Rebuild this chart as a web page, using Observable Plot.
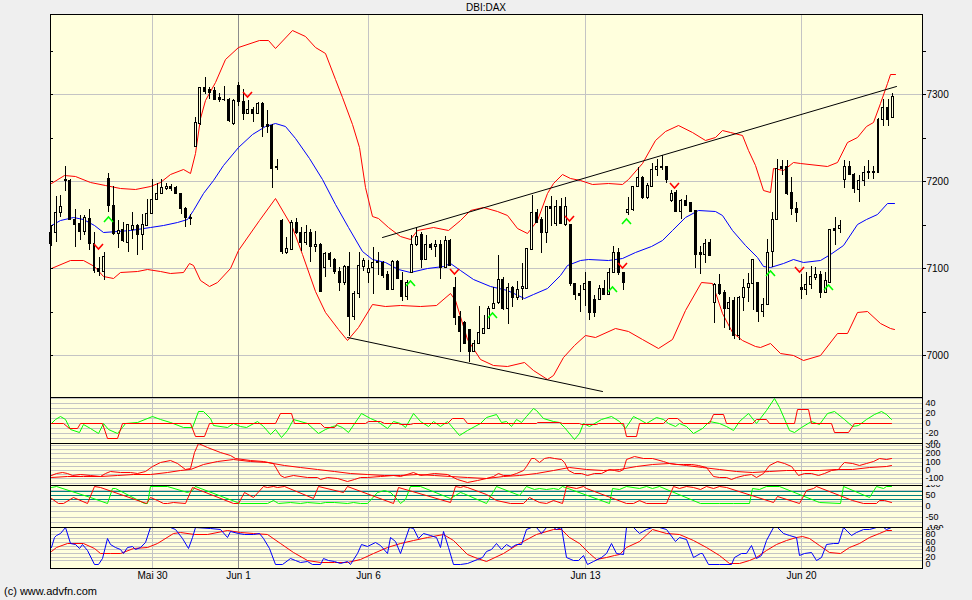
<!DOCTYPE html>
<html><head><meta charset="utf-8">
<script src="https://cdn.jsdelivr.net/npm/d3@7"></script>
<script src="https://cdn.jsdelivr.net/npm/@observablehq/plot@0.6"></script>
<style>
html,body{margin:0;padding:0;background:#EFEFEF;}
#chart{position:relative;width:972px;height:600px;background:#EFEFEF;font-family:"Liberation Sans",Arial,sans-serif;overflow:hidden;}
#chart svg{position:absolute;left:0;}
.title{position:absolute;top:2px;left:0;width:972px;text-align:center;font-size:10px;color:#000;}
.caption{position:absolute;left:4px;top:585px;font-size:11px;color:#000;}
</style></head><body><div id="chart"><div class="title">DBI:DAX</div><div class="caption">(c) www.advfn.com</div></div>
<script>
// ---------- DATA ----------
const tickIdx = [21, 39, 66, 111, 156];
const tickLabels = ["Mai 30", "Jun 1", "Jun 6", "Jun 13", "Jun 20"];
const tickDark = [false, true, false, false, false];

const open  = [7142,7142,7165,7203,7201,7156,7152,7143,7158,7129,7100,7097,7204,7173,7140,7145,7130,7145,7150,7139,7150,7163,7180,7187,7192,7194,7193,7186,7169,7158,
7240,7267,7308,7306,7305,7297,7295,7295,7267,7311,7292,7279,7283,7279,7290,7266,7265,7218,7155,7119,7122,7153,7142,7130,7141,7125,7128,7101,7117,7111,
7097,7084,7102,7045,7071,7103,7095,7101,7107,7107,7093,7076,7108,7086,7068,7095,7128,7139,7110,7128,7125,7128,7101,7132,7078,7045,7038,7030,7005,7014,
7025,7031,7054,7061,7088,7054,7078,7067,7077,7077,7122,7165,7156,7141,7172,7152,7172,7151,7151,7083,7071,7076,7085,7065,7064,7077,7070,7095,7119,7096,
7165,7168,7194,7205,7182,7194,7214,7218,7218,7178,7188,7166,7178,7176,7167,7119,7116,7130,7061,7082,7072,7054,7063,7023,7067,7078,7083,7084,7051,7059,
7120,7156,7217,7217,7188,7169,7078,7076,7082,7090,7093,7073,7084,7146,7146,7202,7218,7208,7191,7201,7211,7212,7211,7271,7285,7274];
const high  = [7150,7183,7184,7217,7203,7168,7161,7161,7168,7141,7113,7118,7209,7194,7155,7153,7151,7164,7151,7162,7179,7203,7198,7203,7198,7197,7194,7187,7170,7162,
7274,7308,7320,7308,7308,7301,7309,7296,7294,7314,7306,7293,7285,7291,7291,7282,7266,7226,7157,7136,7155,7158,7147,7150,7145,7143,7129,7119,7119,7112,
7101,7104,7118,7074,7119,7112,7109,7124,7119,7108,7097,7109,7109,7096,7086,7138,7147,7141,7138,7129,7132,7132,7137,7133,7090,7051,7039,7030,7017,7056,
7046,7056,7078,7115,7090,7083,7080,7085,7106,7123,7184,7168,7159,7172,7183,7178,7181,7182,7151,7083,7081,7096,7085,7069,7081,7086,7100,7125,7123,7096,
7182,7194,7216,7206,7198,7221,7225,7230,7218,7190,7190,7179,7184,7176,7167,7125,7133,7134,7083,7093,7075,7067,7067,7068,7087,7094,7111,7084,7066,7133,
7165,7225,7224,7224,7205,7176,7093,7095,7102,7101,7097,7096,7145,7159,7155,7224,7223,7210,7207,7218,7224,7217,7273,7294,7294,7301];
const low   = [7125,7130,7159,7189,7155,7124,7132,7138,7121,7094,7091,7086,7165,7138,7123,7130,7119,7133,7115,7121,7150,7163,7178,7186,7190,7189,7185,7162,7147,7150,
7239,7265,7300,7294,7293,7291,7292,7268,7265,7287,7270,7277,7268,7278,7251,7256,7192,7213,7116,7116,7122,7139,7120,7127,7107,7118,7073,7090,7101,7093,
7074,7081,7022,7040,7066,7097,7083,7070,7092,7089,7075,7075,7088,7062,7063,7094,7126,7100,7109,7121,7113,7087,7100,7102,7035,7004,7013,6992,7004,7014,
7024,7030,7053,7059,7052,7036,7055,7063,7063,7076,7121,7152,7117,7129,7148,7148,7151,7148,7079,7063,7050,7056,7040,7044,7063,7070,7070,7094,7092,7075,
7161,7166,7193,7180,7180,7193,7206,7213,7198,7176,7164,7157,7173,7165,7100,7093,7106,7114,7037,7069,7031,7029,7018,7017,7051,7061,7052,7038,7044,7058,
7101,7155,7207,7184,7161,7153,7064,7069,7076,7086,7066,7071,7084,7127,7140,7192,7207,7187,7176,7194,7202,7202,7211,7263,7263,7273];
const close = [7129,7165,7171,7201,7156,7151,7143,7159,7129,7098,7097,7114,7173,7140,7144,7132,7151,7150,7139,7151,7163,7180,7187,7193,7195,7192,7186,7169,7159,7159,
7268,7308,7304,7303,7294,7294,7294,7270,7293,7292,7279,7283,7279,7290,7264,7264,7215,7216,7120,7123,7153,7141,7130,7141,7125,7128,7074,7117,7111,7097,
7084,7102,7045,7071,7104,7109,7100,7107,7108,7092,7076,7108,7089,7068,7084,7128,7137,7110,7128,7124,7128,7101,7132,7104,7044,7028,7014,7005,7014,7027,
7031,7054,7060,7088,7054,7078,7067,7076,7079,7123,7165,7153,7141,7172,7169,7172,7152,7172,7083,7070,7069,7083,7049,7049,7077,7070,7095,7119,7095,7084,
7168,7194,7205,7182,7196,7214,7218,7216,7203,7187,7166,7178,7173,7166,7116,7116,7129,7115,7082,7071,7054,7061,7023,7067,7078,7083,7111,7051,7059,7118,
7156,7215,7215,7187,7169,7164,7076,7082,7091,7093,7073,7086,7145,7144,7150,7218,7208,7192,7201,7211,7212,7211,7271,7285,7271,7298];

const upperBand = [[0,7198],[2.8,7207],[5.1,7206],[8.2,7199],[11.3,7196],[14.4,7192],[17.5,7191],[20.6,7194],[22.7,7199],[24.8,7208],[27.5,7214],[29.0,7210],[30.0,7232],[31.0,7273],[32.1,7293],[34.2,7314],[36.2,7341],[39.0,7354],[43.2,7362],[45.2,7362],[46.6,7353],[50.1,7374],[52.9,7367],[55.0,7354],[57.0,7347],[59.1,7318],[60.5,7297],[62.6,7266],[64.0,7239],[65.3,7193],[66.7,7160],[68.1,7158],[70.2,7147],[72.6,7137],[74.7,7133],[76.1,7144],[79.5,7147],[82.7,7144],[85.1,7155],[87.2,7167],[89.9,7170],[92.7,7166],[94.8,7161],[96.9,7146],[99.0,7140],[101.0,7155],[103.1,7186],[104.5,7198],[106.2,7208],[108.0,7204],[110.0,7201],[112.5,7197],[115.9,7198],[118.7,7197],[120.1,7202],[122.9,7221],[125.6,7247],[127.7,7258],[130.5,7265],[133.3,7257],[136.0,7247],[138.1,7251],[139.5,7259],[141.2,7257],[143.7,7253],[145.0,7236],[146.4,7219],[148.1,7190],[149.5,7188],[150.2,7215],[152.3,7213],[154.4,7222],[155.8,7221],[161.3,7217],[163.4,7222],[165.5,7245],[167.6,7251],[169.6,7264],[171.0,7268],[172.4,7290],[173.8,7313],[174.6,7323],[175.5,7323]];
const middleBand = [[0,7150],[1.9,7155],[4.7,7159],[6.8,7157],[8.9,7150],[10.9,7142],[13.7,7143],[16.5,7144],[20.6,7147],[23.4,7150],[26.2,7153],[28.3,7156],[29.6,7167],[31.7,7186],[33.8,7201],[35.9,7219],[39.0,7239],[41.8,7254],[44.6,7264],[46.6,7267],[48.7,7264],[50.8,7250],[53.6,7227],[56.3,7203],[59.1,7174],[61.9,7147],[64.7,7120],[66.7,7111],[69.5,7107],[72.3,7099],[74.7,7096],[78.2,7100],[81.6,7102],[83.0,7106],[85.1,7098],[87.9,7088],[91.3,7079],[94.8,7075],[98.3,7066],[100.3,7070],[103.1,7077],[105.9,7092],[107.3,7104],[110.0,7109],[111.8,7110],[115.9,7109],[118.7,7112],[121.5,7119],[124.9,7125],[127.0,7132],[129.1,7144],[131.9,7159],[134.6,7167],[138.1,7166],[139.5,7161],[141.6,7144],[144.3,7127],[146.8,7113],[148.1,7102],[149.5,7101],[152.3,7106],[154.4,7110],[156.5,7107],[159.9,7109],[162.0,7116],[164.8,7127],[167.6,7151],[169.6,7156],[171.7,7162],[173.8,7175],[175.3,7175]];
const lowerBand = [[0,7100],[4.0,7109],[6.8,7109],[8.9,7102],[10.9,7091],[13.0,7089],[14.4,7096],[17.9,7097],[20.0,7099],[22.7,7097],[24.8,7094],[27.6,7096],[28.8,7106],[29.6,7104],[31.0,7086],[33.0,7079],[34.5,7084],[37.3,7100],[39.0,7121],[43.2,7155],[46.6,7181],[50.1,7147],[52.2,7116],[54.9,7074],[57.0,7049],[59.8,7030],[61.7,7017],[63.9,7032],[66.7,7059],[69.5,7056],[72.6,7058],[76.8,7056],[80.2,7058],[83.0,7071],[84.1,7063],[86.5,7019],[89.3,6995],[92.0,6989],[94.8,6987],[98.3,6992],[100.3,6983],[103.1,6972],[104.5,6977],[106.6,6998],[108.7,7012],[111.1,7023],[113.2,7021],[117.3,7031],[120.1,7028],[122.9,7019],[126.3,7008],[129.1,7019],[131.9,7052],[135.3,7084],[137.4,7083],[139.5,7048],[141.6,7027],[143.7,7017],[146.4,7011],[147.5,7009],[149.5,7014],[151.6,7002],[154.4,7000],[156.5,6994],[159.9,7000],[163.4,7025],[165.5,7025],[167.6,7050],[169.8,7051],[172.4,7037],[174.5,7031],[175.3,7030]];
const upperTrend = [[68.8,7136],[175.8,7310]];
const lowerTrend = [[61.7,7021],[114.6,6959]];
const sellSignals = [[9.8,7126],[40.8,7300],[83.9,7097],[107.8,7158],[118.8,7104],[129.6,7196],[155.5,7099]];
const buySignals  = [[11.9,7157],[74.7,7083],[91.8,7046],[116.7,7076],[119.6,7154],[149.5,7094],[161.6,7078]];

const mainGrid = [7000, 7100, 7200, 7300];
const mainTicks = [7000, 7050, 7100, 7150, 7200, 7250, 7300, 7350];

const p1Green = [[0,0],[0.9,8],[1.9,15],[3.0,7],[4.0,-12],[5.8,-17],[6.8,-1],[8.2,-10],[9.9,-19],[10.9,0],[12.0,-12],[13.7,-20],[14.8,-7],[15.4,0],[17.9,2],[21.0,15],[22.7,8],[24.8,2],[27.6,-8],[29.3,-7],[30.7,23],[31.7,23],[33.1,10],[33.8,-3],[36.6,-7],[38.0,0],[39.4,-5],[40.7,-8],[42.8,3],[44.2,-5],[45.6,-21],[46.6,-12],[47.8,-28],[49.1,-13],[50.4,7],[53.2,0],[55.6,-20],[57.0,-12],[58.4,-5],[59.5,-3],[60.5,-8],[61.9,-17],[64.6,20],[66.4,10],[67.8,3],[69.9,-10],[71.2,3],[72.6,1],[73.7,-8],[75.4,20],[76.8,3],[78.5,-5],[79.5,5],[81.0,-5],[82.3,3],[84.8,-23],[86.5,-13],[89.3,0],[90.5,12],[92.6,19],[93.6,2],[94.7,5],[95.7,-5],[96.7,8],[97.8,2],[98.8,15],[100.2,30],[100.9,27],[102.3,10],[104.4,3],[105.7,2],[106.8,-7],[108.7,-31],[109.9,-20],[110.6,0],[112.0,-5],[114.4,8],[116.5,15],[118.2,3],[119.3,-10],[121.0,15],[122.4,7],[123.8,1],[125.8,13],[127.2,7],[128.3,0],[129.7,-5],[130.7,0],[132.1,-5],[133.5,-20],[135.5,-10],[136.9,5],[139.0,0],[140.4,-5],[141.8,-13],[143.2,5],[144.9,20],[146.6,0],[148.7,27],[150.4,50],[151.5,33],[153.6,-13],[154.6,-17],[156.0,-7],[158.1,3],[159.8,-2],[161.5,20],[162.9,23],[165.0,7],[166.7,-5],[167.8,-3],[169.5,8],[171.2,19],[172.6,23],[173.7,19],[174.7,8]];
const p1Red = [[0,0],[2.6,0],[3.7,-10],[5.4,-10],[6.0,0],[10.6,0],[11.6,-30],[13.7,-30],[14.8,0],[29.0,0],[30.0,-25],[31.9,-25],[33.0,0],[46.6,0],[47.7,20],[49.9,20],[50.6,0],[56.0,0],[56.8,-8],[58.8,-8],[59.5,0],[65.3,0],[66.0,3],[68.5,3],[69.2,0],[72.3,0],[72.6,-2],[74.7,-2],[75.4,0],[82.3,0],[83.4,10],[85.8,10],[86.6,0],[100.9,0],[101.2,2],[105.7,2],[106.4,0],[109.9,0],[110.2,-2],[113.4,-2],[113.7,0],[118.9,0],[119.6,-25],[121.7,-25],[122.4,0],[127.2,0],[128.3,10],[130.3,10],[131.4,0],[136.9,0],[137.6,19],[139.7,19],[140.3,0],[145.9,0],[146.6,8],[148.7,8],[149.4,0],[154.6,0],[155.1,28],[157.4,28],[158.1,0],[162.2,0],[162.9,-18],[165.7,-18],[167.1,0],[174.7,0]];
const p1Labels = [40, 20, 0, -20, -40];
const p1Grid = [-30, -20, -10, 0, 10, 20, 30, 40, 50];

const p2Fast = [[0,-60],[1.2,-32],[2.3,-20],[3.3,-40],[4.4,-60],[6.1,-48],[8.2,-60],[10.3,-72],[11.3,-32],[12.3,-12],[14.4,-20],[16.5,-28],[17.9,-40],[19.6,-12],[21.0,48],[22.7,100],[24.8,120],[26.2,80],[27.9,12],[29.0,20],[29.7,220],[30.7,320],[32.4,280],[35.2,220],[37.3,180],[38.3,140],[41.4,120],[44.2,112],[46.3,80],[47.7,-60],[48.4,-88],[50.4,-60],[53.2,-80],[55.3,-88],[56.0,-112],[57.4,-88],[59.5,-100],[61.5,-128],[63.0,-112],[64.3,-88],[65.7,-88],[68.5,-72],[71.2,-60],[72.6,-68],[75.4,-28],[76.8,-60],[79.6,-40],[82.3,-48],[84.4,-112],[86.5,-140],[88.6,-120],[90.5,-95],[91.9,-72],[92.9,-32],[94.0,-64],[95.4,-60],[96.7,-40],[98.1,0],[98.8,48],[99.9,140],[100.5,140],[101.6,100],[102.6,140],[103.7,152],[104.7,140],[106.1,128],[106.8,100],[107.5,0],[108.9,-40],[110.3,-32],[111.6,-60],[113.0,-40],[114.4,-40],[116.1,8],[117.2,0],[118.2,-8],[118.9,8],[119.6,128],[121.3,168],[123.1,140],[125.1,140],[127.2,112],[128.6,88],[130.0,72],[131.4,72],[133.1,72],[134.5,60],[136.2,32],[137.6,-72],[139.0,-88],[140.4,-88],[141.4,-112],[142.5,-88],[144.2,-60],[145.6,-48],[146.6,-88],[148.0,-40],[149.4,60],[151.1,108],[152.5,80],[153.9,48],[155.3,-64],[156.7,-40],[158.1,-40],[159.5,-60],[160.8,-40],[162.2,0],[163.6,12],[164.3,60],[165.0,100],[166.7,88],[168.1,60],[169.5,80],[170.9,112],[172.3,140],[173.7,128],[174.7,140]];
const p2Slow = [[0,-88],[3.3,-72],[6.8,-76],[10.3,-72],[13.7,-60],[17.2,-52],[20.7,-48],[24.1,-20],[26.9,0],[29.0,12],[31.7,72],[34.5,108],[38.0,128],[41.4,112],[44.9,100],[48.4,60],[51.8,32],[55.3,8],[58.8,-12],[62.2,-40],[65.7,-48],[69.2,-60],[72.6,-60],[76.1,-48],[79.6,-60],[83.0,-72],[86.5,-88],[90.5,-95],[94.0,-72],[97.4,-60],[100.9,-32],[104.4,0],[107.8,32],[111.3,16],[114.8,0],[118.2,8],[121.7,48],[125.1,72],[128.6,80],[132.1,60],[135.5,40],[139.0,8],[142.5,-8],[145.9,-20],[149.4,-12],[152.9,0],[156.3,0],[159.8,0],[163.3,12],[166.7,12],[170.2,32],[173.7,48],[174.7,56]];
const p2Labels = [300, 200, 100, 0, -100];
const p2Grid = [-150, -100, -50, 0, 50, 100, 150, 200, 250, 300];

const p3Green = [[0,88],[1.2,92],[8.2,42],[11.6,12],[12.7,83],[13.4,80],[19.3,12],[20.0,12],[20.6,92],[24.1,92],[28.3,65],[29.3,73],[30.0,92],[38.7,20],[39.4,12],[44.9,12],[46.3,27],[47.3,12],[49.7,20],[51.8,12],[53.2,20],[56.0,12],[57.0,20],[58.8,20],[61.5,12],[62.9,20],[64.3,12],[65.7,12],[67.8,65],[69.2,73],[70.5,65],[71.9,30],[72.6,12],[73.7,30],[74.7,92],[76.8,92],[83.0,35],[85.1,65],[85.8,58],[90.5,13],[92.6,92],[97.4,50],[98.8,92],[100.5,76],[101.6,83],[103.0,76],[104.4,83],[105.4,76],[106.4,92],[116.1,12],[116.8,83],[118.2,76],[119.6,92],[122.4,83],[123.8,92],[125.1,83],[126.5,92],[134.9,12],[139.0,12],[141.8,12],[145.2,12],[145.9,83],[147.3,76],[148.7,92],[151.5,92],[159.8,20],[164.0,12],[164.7,92],[170.2,39],[171.6,92],[173.0,83],[173.7,92],[174.7,92]];
const p3Red = [[0,35],[1.6,12],[2.6,12],[4.7,39],[7.5,12],[8.9,92],[10.3,88],[19.9,12],[20.6,39],[22.0,27],[23.4,12],[24.1,12],[25.5,20],[28.0,12],[29.3,88],[31.0,73],[38.0,12],[39.0,12],[40.1,65],[42.1,42],[44.2,92],[44.9,88],[46.3,92],[47.0,88],[48.4,92],[54.6,35],[55.6,92],[60.8,65],[61.5,92],[71.2,12],[72.3,88],[83.0,20],[84.1,92],[85.1,88],[85.8,92],[86.5,88],[90.5,55],[92.6,27],[95.4,12],[98.1,12],[99.5,39],[101.6,20],[103.0,12],[104.4,27],[106.4,12],[107.1,92],[109.2,83],[110.6,92],[111.3,83],[119.6,12],[121.0,12],[122.4,27],[123.8,12],[127.9,12],[129.3,92],[130.7,83],[132.1,92],[133.5,88],[134.9,76],[136.2,92],[137.6,83],[139.0,92],[140.4,88],[150.1,20],[151.1,47],[155.6,12],[157.0,73],[158.4,83],[159.1,92],[166.7,27],[168.8,12],[171.6,12],[172.3,27],[173.3,27],[174.7,20]];
const p3Levels = [70, 50, 30];
const p3Labels = [100, 50, 0, -50, -100];
const p3Grid = [-75, -50, -25, 0, 25, 75];

const p4Blue = [[0,47],[0.6,74],[1.2,78],[1.9,83],[3.0,100],[4.0,56],[5.1,54],[5.8,42],[6.4,54],[7.5,38],[8.9,0],[9.9,0],[10.6,15],[11.6,71],[12.3,54],[13.4,47],[14.4,40],[15.1,29],[15.8,45],[16.8,49],[17.5,40],[18.6,47],[19.6,60],[20.6,100],[24.8,100],[25.8,94],[27.2,69],[28.6,42],[29.3,74],[30.0,100],[33.1,96],[35.2,94],[36.6,74],[37.3,90],[39.0,83],[40.1,80],[42.1,81],[43.2,85],[44.2,69],[45.3,42],[46.6,0],[48.0,0],[49.7,15],[50.8,11],[51.8,6],[53.2,9],[54.3,0],[56.0,0],[56.7,15],[57.7,11],[58.8,9],[60.2,2],[61.5,9],[62.2,0],[63.6,29],[64.6,54],[65.7,49],[67.4,60],[68.5,51],[69.9,29],[70.5,74],[71.6,63],[72.6,29],[74.4,100],[75.4,96],[76.4,69],[77.5,85],[78.9,78],[80.2,74],[81.0,47],[81.6,90],[82.7,47],[83.7,0],[85.1,0],[86.5,2],[88.6,13],[89.6,20],[90.5,35],[91.5,40],[92.6,58],[93.6,40],[94.7,54],[95.7,47],[96.7,54],[97.8,54],[98.8,94],[99.9,100],[100.9,100],[101.9,83],[103.0,100],[104.4,100],[105.1,94],[106.1,100],[107.1,20],[108.5,11],[109.6,11],[110.6,24],[111.6,0],[112.7,9],[114.4,18],[115.4,31],[116.5,56],[117.5,31],[118.9,27],[119.6,100],[121.0,100],[122.4,83],[123.8,94],[125.1,100],[126.5,100],[127.9,94],[129.7,63],[130.7,74],[132.1,67],[133.5,20],[134.9,31],[135.5,31],[136.6,0],[139.0,0],[141.4,0],[142.1,20],[143.5,29],[144.6,31],[145.6,51],[146.6,15],[147.7,24],[148.7,65],[150.1,100],[151.1,100],[152.2,83],[153.6,78],[154.9,74],[155.6,24],[156.7,29],[158.1,33],[159.1,11],[160.1,20],[161.2,54],[162.6,58],[163.6,58],[164.7,100],[166.4,78],[167.4,87],[168.8,94],[170.2,94],[171.6,100],[173.0,100],[173.7,94],[174.7,100]];
const p4Red = [[0,36],[1.2,47],[3.3,58],[6.8,58],[8.9,42],[10.3,29],[12.3,31],[14.4,29],[17.2,44],[20.0,47],[22.0,58],[25.5,83],[26.9,87],[29.7,81],[32.4,81],[36.6,92],[39.4,87],[42.1,83],[44.9,81],[47.7,56],[50.4,33],[53.2,11],[56.0,6],[58.8,6],[61.5,6],[64.3,13],[67.1,29],[69.9,47],[72.6,56],[75.4,65],[78.2,74],[81.6,81],[83.7,65],[86.5,27],[88.6,15],[90.5,8],[94.0,29],[97.4,58],[100.9,81],[104.4,94],[106.1,94],[107.8,74],[109.9,58],[112.0,29],[113.4,13],[115.4,20],[117.2,24],[118.2,27],[119.6,45],[122.4,63],[125.1,94],[127.9,85],[130.7,81],[133.5,65],[136.2,47],[139.0,24],[141.1,4],[143.2,4],[145.2,11],[146.6,20],[148.7,38],[150.8,54],[152.9,65],[154.9,74],[156.3,76],[157.7,69],[159.8,51],[161.9,33],[164.0,31],[166.0,45],[168.1,58],[170.2,74],[172.3,85],[173.7,92],[174.7,92]];
const p4Labels = [100, 80, 60, 40, 20, 0];
const p4Grid = [-10, 10, 20, 30, 40, 50, 60, 70, 80, 90];

// ---------- LAYOUT / STYLE ----------
const W = 972, ML = 50, MR = 50;
const xDomain = [-0.15, 181.15];
const BG = "#FFFFDD", GRID = "#C4C4C4", GRID_DARK = "#8C8C8C";
const RED = "#FF0000", GREEN = "#00FF00", BLUE = "#0000FF", TEAL = "#008080";
const FONT = "'Liberation Sans', Arial, sans-serif";
const style = {background: "transparent", color: "black", fontFamily: FONT, fontSize: "10px", overflow: "hidden"};
const chart = document.getElementById("chart");

const chevronDown = {draw(ctx, size) { const r = Math.sqrt(size / Math.PI); ctx.moveTo(-r, -r * 0.55); ctx.lineTo(0, r * 0.55); ctx.lineTo(r, -r * 0.55); }};
const chevronUp = {draw(ctx, size) { const r = Math.sqrt(size / Math.PI); ctx.moveTo(-r, r * 0.55); ctx.lineTo(0, -r * 0.55); ctx.lineTo(r, r * 0.55); }};

const vGrid = () => [
  Plot.ruleX(tickIdx.filter((d, k) => !tickDark[k]), {x: d => d, stroke: GRID}),
  Plot.ruleX(tickIdx.filter((d, k) => tickDark[k]), {x: d => d, stroke: GRID_DARK})
];
const xy = (stroke, w = 1) => ({x: d => d[0], y: d => d[1], stroke, strokeWidth: w});

function place(svg, top) { svg.style.top = top + "px"; chart.appendChild(svg); }

// ---------- MAIN PRICE PANEL ----------
const candles = open.map((o, i) => ({i, o, c: close[i], h: high[i], l: low[i]}));
const upCandles = candles.filter(d => d.c >= d.o);

const main = Plot.plot({
  width: W, height: 398, marginLeft: ML, marginRight: MR, marginTop: 14, marginBottom: 1,
  style,
  x: {domain: xDomain, round: true, axis: null},
  y: {domain: [6951.8, 7392.3], round: true},
  marks: [
    Plot.frame({fill: BG, stroke: null}),
    Plot.ruleY(mainGrid, {y: d => d, stroke: GRID}),
    ...vGrid(),
    Plot.line(upperBand, xy(RED)),
    Plot.line(lowerBand, xy(RED)),
    Plot.line(middleBand, xy(BLUE)),
    Plot.line(upperTrend, xy("black")),
    Plot.line(lowerTrend, xy("black")),
    Plot.ruleX(candles, {x: "i", y1: "l", y2: "h", stroke: "black"}),
    Plot.rect(candles, {x1: d => d.i - 0.31, x2: d => d.i + 0.31, y1: "o", y2: "c", fill: "black", insetBottom: -1}),
    Plot.rect(upCandles, {x1: d => d.i - 0.31, x2: d => d.i + 0.31, y1: "o", y2: "c", fill: BG, insetLeft: 1, insetRight: 1, insetTop: 1, insetBottom: 0}),
    Plot.dot(sellSignals, {x: d => d[0], y: d => d[1], symbol: chevronDown, r: 4.5, stroke: RED, strokeWidth: 1.6, fill: "none"}),
    Plot.dot(buySignals, {x: d => d[0], y: d => d[1], symbol: chevronUp, r: 4.5, stroke: GREEN, strokeWidth: 1.6, fill: "none"}),
    Plot.axisY({anchor: "left", ticks: mainTicks, tickSize: -3, tickFormat: () => "", label: null}),
    Plot.axisY({anchor: "right", ticks: mainTicks, tickSize: 3, tickPadding: 1, tickFormat: d => d % 100 === 0 ? String(d) : "", label: null, fontSize: 10}),
    Plot.frame({stroke: "black"})
  ]
});
place(main, 0);

// ---------- INDICATOR PANELS ----------
function panel({top, height, marginBottom = 1, domain, grid, labels, marks, xAxis = false}) {
  const svg = Plot.plot({
    width: W, height, marginLeft: ML, marginRight: MR, marginTop: 0, marginBottom,
    style,
    x: xAxis ? {domain: xDomain, round: true} : {domain: xDomain, round: true, axis: null},
    y: {domain, round: true, axis: null},
    marks: [
      Plot.frame({fill: BG, stroke: null}),
      Plot.ruleY(grid, {y: d => d, stroke: GRID}),
      ...vGrid(),
      ...marks,
      Plot.text(labels, {y: d => d, text: d => String(d), frameAnchor: "right", dx: 3, textAnchor: "start", fontSize: 9, fill: "black"}),
      ...(xAxis ? [Plot.axisX({ticks: tickIdx, tickSize: 0, tickPadding: 3, tickFormat: d => tickLabels[tickIdx.indexOf(d)], label: null, fontSize: 10})] : []),
      Plot.frame({stroke: "black"})
    ]
  });
  place(svg, top);
}

panel({top: 397, height: 47, domain: [-40, 52], grid: p1Grid, labels: p1Labels,
  marks: [Plot.line(p1Green, xy(GREEN)), Plot.line(p1Red, xy(RED))]});

panel({top: 443, height: 43, domain: [-180, 324], grid: p2Grid, labels: p2Labels,
  marks: [Plot.line(p2Slow, xy(RED)), Plot.line(p2Fast, xy(RED))]});

panel({top: 485, height: 43, domain: [-95.5, 95.5], grid: p3Grid, labels: p3Labels,
  marks: [Plot.ruleY(p3Levels, {y: d => d, stroke: TEAL}), Plot.line(p3Green, xy(GREEN)), Plot.line(p3Red, xy(RED))]});

panel({top: 527, height: 61, marginBottom: 20, domain: [-10.8, 100], grid: p4Grid, labels: p4Labels, xAxis: true,
  marks: [Plot.line(p4Red, xy(RED)), Plot.line(p4Blue, xy(BLUE))]});
</script>
</body></html>
